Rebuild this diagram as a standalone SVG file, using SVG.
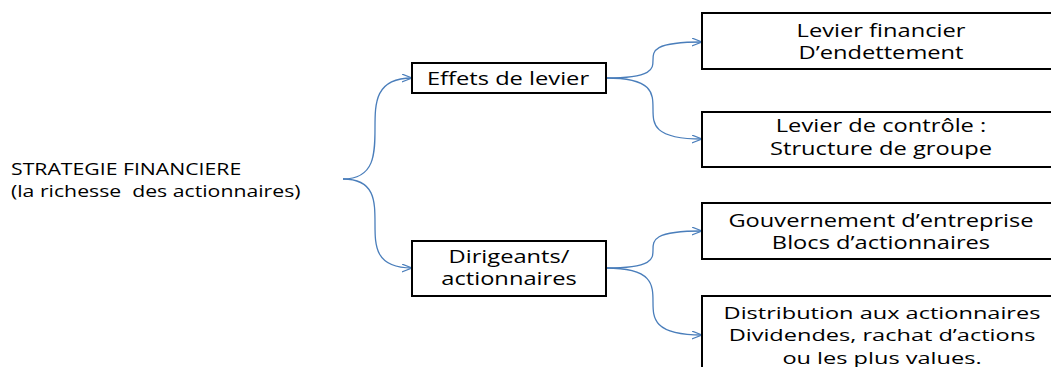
<svg xmlns="http://www.w3.org/2000/svg" width="1051" height="367" viewBox="0 0 1051 367">
<style>
.box{fill:#fff;stroke:#000;stroke-width:2}
.t{font-family:"Open Sans","DejaVu Sans",sans-serif;font-size:17.8px;fill:#000;text-anchor:middle}
.s{font-size:17.2px}
.l{font-family:"Open Sans","DejaVu Sans",sans-serif;font-size:15.5px;fill:#000;white-space:pre}
.c{fill:none;stroke:#4A7EBB;stroke-width:1.3}
</style>
<defs>
<marker id="ah" viewBox="0 0 11 9" refX="10.3" refY="4.5" markerWidth="11" markerHeight="9" markerUnits="userSpaceOnUse" orient="auto">
<path d="M0,0.5 L10.3,4.5 L0,8.5" fill="none" stroke="#4A7EBB" stroke-width="1.3"/>
</marker>
</defs>
<g id="root" transform="translate(11 0) scale(1.37 1)">
<text class="l" x="0" y="175">STRATEGIE FINANCIERE</text>
<text class="l" x="0" y="197" xml:space="preserve">(la richesse  des actionnaires)</text>
</g>
<g id="connectors">
<path class="c" marker-end="url(#ah)" d="M343,179 C375,179 375,153 375,128 C375,103 375,78 412,78"/>
<path class="c" marker-end="url(#ah)" d="M343,179 C375,179 375,201 375,224 C375,246 375,268 412,268"/>
<path class="c" marker-end="url(#ah)" d="M606,78 C653,78 653,69 653,60 C653,51 653,42 702,42"/>
<path class="c" marker-end="url(#ah)" d="M606,78 C653,78 653,93 653,109 C653,124 653,139 702,139"/>
<path class="c" marker-end="url(#ah)" d="M606,268 C653,268 653,259 653,250 C653,240 653,231 702,231"/>
<path class="c" marker-end="url(#ah)" d="M606,268 C653,268 653,285 653,302 C653,318 653,335 702,335"/>
</g>
<g id="effets">
<rect class="box" x="412" y="63" width="194" height="30"/>
<g transform="translate(508 0) scale(1.33 1)"><text class="t" x="0" y="85">Effets de levier</text></g>
</g>
<g id="dirigeants">
<rect class="box" x="412" y="241" width="194" height="55"/>
<g transform="translate(509 0) scale(1.33 1)">
<text class="t" x="0" y="263">Dirigeants/</text>
<text class="t" x="0" y="285">actionnaires</text>
</g>
</g>
<g id="levier-financier">
<rect class="box" x="702" y="13" width="358" height="56"/>
<g transform="translate(881 0) scale(1.33 1)">
<text class="t" x="0" y="37">Levier financier</text>
<text class="t" x="0" y="59">D’endettement</text>
</g>
</g>
<g id="levier-controle">
<rect class="box" x="702" y="112" width="358" height="55"/>
<g transform="translate(881 0) scale(1.33 1)">
<text class="t" x="0" y="132">Levier de contrôle :</text>
<text class="t" x="0" y="155">Structure de groupe</text>
</g>
</g>
<g id="gouvernement">
<rect class="box" x="702" y="203" width="358" height="56"/>
<g transform="translate(881 0) scale(1.33 1)">
<text class="t" x="0" y="227">Gouvernement d’entreprise</text>
<text class="t" x="0" y="249">Blocs d’actionnaires</text>
</g>
</g>
<g id="distribution">
<rect class="box" x="702" y="296" width="358" height="80"/>
<g transform="translate(882 0) scale(1.37 1)">
<text class="t s" x="0" y="319">Distribution aux actionnaires</text>
<text class="t s" x="0" y="341">Dividendes, rachat d’actions</text>
<text class="t s" x="0" y="364">ou les plus values.</text>
</g>
</g>
</svg>
